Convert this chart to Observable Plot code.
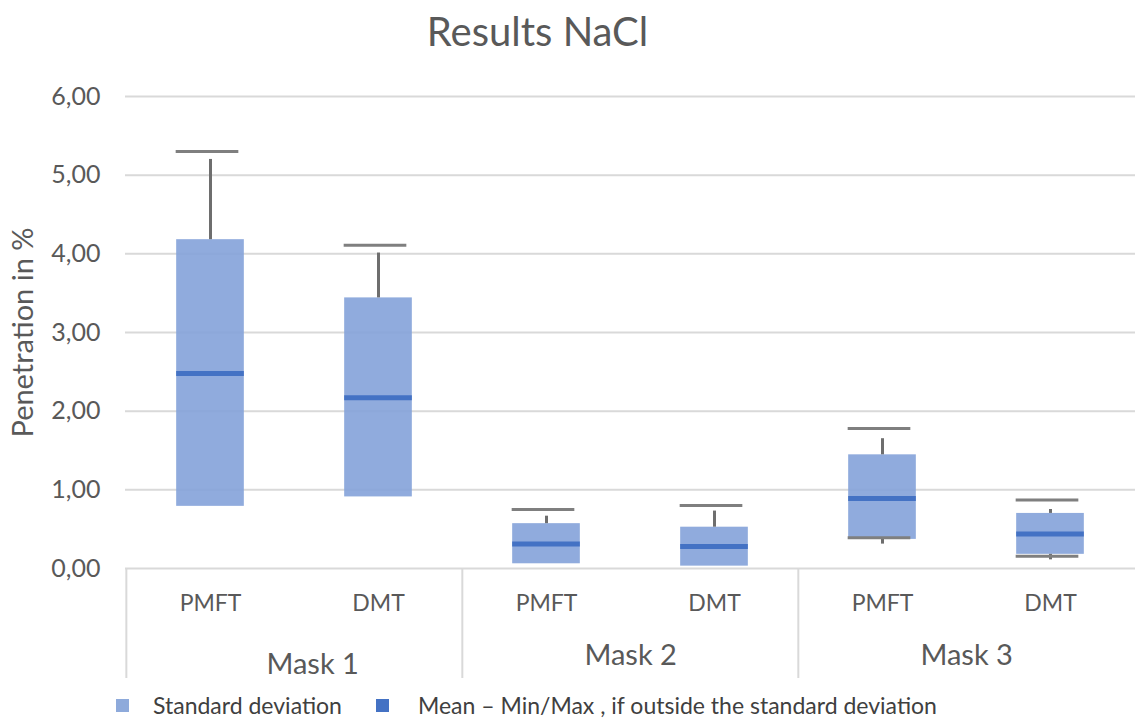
<!DOCTYPE html>
<html>
<head>
<meta charset="utf-8">
<script src="https://cdn.jsdelivr.net/npm/d3@7"></script>
<script src="https://cdn.jsdelivr.net/npm/@observablehq/plot@0.6"></script>
<style>
  html, body { margin: 0; padding: 0; background: #fff; }
  body { width: 1135px; height: 718px; overflow: hidden; font-family: Lato, "Open Sans", sans-serif; }
  #title { height: 60px; line-height: 62px; font-size: 40px; color: #595959; text-align: center; padding-right: 60px; box-sizing: border-box; }
  #legend { position: absolute; top: 691px; left: 116px; font-size: 23px; color: #404040; display: flex; align-items: center; }
  .sw { display: inline-block; width: 13px; height: 13px; margin-right: 24px; }
</style>
</head>
<body>
<div id="title">Results NaCl</div>
<div id="chart"></div>
<div id="legend">
  <span class="sw" style="background:#8eaadb"></span><span>Standard deviation</span>
  <span class="sw" style="background:#4472c4; margin-left:34px; margin-right:29px"></span><span>Mean – Min/Max , if outside the standard deviation</span>
</div>
<script>
const masks = ["Mask 1", "Mask 1", "Mask 2", "Mask 2", "Mask 3", "Mask 3"];
const types = ["PMFT", "DMT", "PMFT", "DMT", "PMFT", "DMT"];
const sdLow = [0.79, 0.91, 0.06, 0.03, 0.37, 0.18];
const sdHigh = [4.18, 3.44, 0.57, 0.525, 1.445, 0.70];
const means = [2.48, 2.17, 0.31, 0.28, 0.89, 0.44];
const maxVals = [5.30, 4.11, 0.75, 0.80, 1.78, 0.87];
const lineTop = [5.20, 4.01, 0.665, 0.73, 1.65, 0.75];
const minVals = [null, null, null, null, 0.39, 0.155];
const lineBottom = [null, null, null, null, 0.31, 0.11];
const yTicks = [0, 1, 2, 3, 4, 5, 6];
const maskNames = ["Mask 1", "Mask 2", "Mask 3"];
const yLabel = "Penetration in %";

const data = masks.map((m, i) => ({
  key: m + "|" + types[i], mask: m, type: types[i],
  lo: sdLow[i], hi: sdHigh[i], mean: means[i],
  max: maxVals[i], top: lineTop[i], min: minVals[i], bottom: lineBottom[i]
}));
const keys = data.map(d => d.key);
const firstKeys = maskNames.map(m => m + "|PMFT");
const lowData = data.filter(d => d.min != null);

const W = 1135, ML = 125, MR = 0;
const bw = (W - ML - MR) / keys.length;
const fmt = v => v.toFixed(2).replace(".", ",");

const chart = Plot.plot({
  width: W,
  height: 618,
  marginLeft: ML,
  marginRight: MR,
  marginTop: 36,
  marginBottom: 110,
  style: { fontFamily: "Lato, 'Open Sans', sans-serif", color: "#595959", overflow: "visible" },
  x: { domain: keys, padding: 0, axis: null },
  y: { domain: [0, 6], ticks: yTicks, axis: null },
  marks: [
    Plot.gridY(yTicks, { stroke: "#d9d9d9", strokeOpacity: 1, strokeWidth: 2 }),
    Plot.axisY(yTicks, {
      tickSize: 0, tickPadding: 25, fontSize: 25, fill: "#595959",
      tickFormat: fmt, label: null
    }),
    Plot.text([yLabel], { frameAnchor: "left", textAnchor: "middle", lineAnchor: "middle", rotate: -90, dx: -102, dy: 0, fontSize: 29, fill: "#595959" }),
    Plot.axisX(keys, {
      tickSize: 0, tickPadding: 26, fontSize: 23, fill: "#595959",
      tickFormat: k => k.split("|")[1], label: null
    }),
    Plot.ruleX(firstKeys, { x: d => d, dx: -bw / 2, stroke: "#d9d9d9", strokeWidth: 2, insetTop: 472, insetBottom: -110 }),
    Plot.text(firstKeys.filter(k => k.startsWith("Mask 1")), { x: d => d, text: d => d.split("|")[0], frameAnchor: "bottom", lineAnchor: "middle", dx: bw / 2 + 18, dy: 96, fontSize: 29, fill: "#595959" }),
    Plot.text(firstKeys.filter(k => !k.startsWith("Mask 1")), { x: d => d, text: d => d.split("|")[0], frameAnchor: "bottom", lineAnchor: "middle", dx: bw / 2, dy: 87, fontSize: 29, fill: "#595959" }),
    Plot.barY(data, { x: "key", y1: "lo", y2: "hi", fill: "#84a2d9", fillOpacity: 0.9, insetLeft: (bw - 68) / 2, insetRight: (bw - 68) / 2 }),
    Plot.ruleX(data, { x: "key", y1: "hi", y2: "top", stroke: "#6e6e6e", strokeWidth: 3 }),
    Plot.ruleX(lowData, { x: "key", y1: "bottom", y2: "lo", stroke: "#6e6e6e", strokeWidth: 3 }),
    Plot.tickY(data, { x: "key", y: "max", stroke: "#7f7f7f", strokeWidth: 3, insetLeft: (bw - 63) / 2, insetRight: (bw - 63) / 2, dx: -3 }),
    Plot.tickY(lowData, { x: "key", y: "min", stroke: "#7f7f7f", strokeWidth: 3, insetLeft: (bw - 63) / 2, insetRight: (bw - 63) / 2, dx: -3 }),
    Plot.tickY(data, { x: "key", y: "mean", stroke: "#4472c4", strokeWidth: 5, insetLeft: (bw - 68) / 2, insetRight: (bw - 68) / 2 })
  ]
});
document.getElementById("chart").appendChild(chart);
</script>
</body>
</html>
